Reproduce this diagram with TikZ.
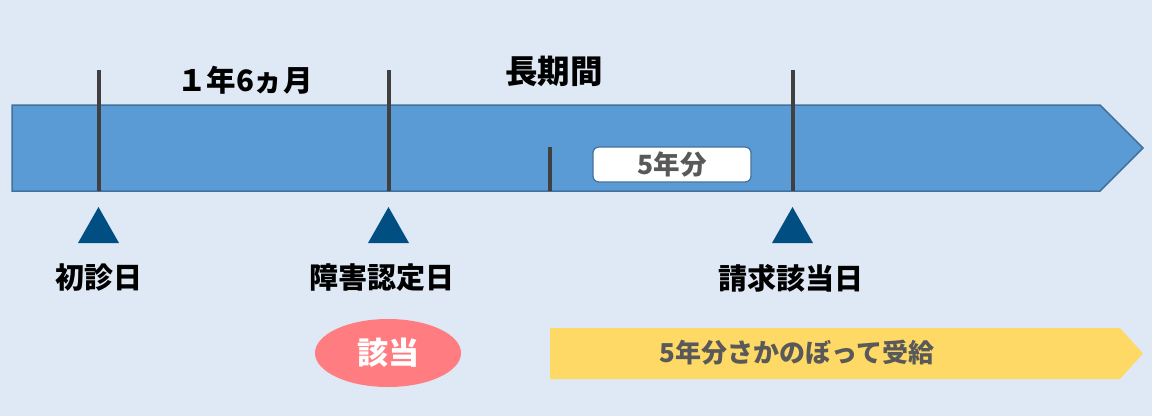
\documentclass[tikz,border=0pt]{standalone}
\usepackage{fontspec}
\usetikzlibrary{shapes.geometric}
\newfontfamily\cjk{Noto Sans CJK JP}
\definecolor{bg}{HTML}{DEE9F5}
\definecolor{band}{HTML}{5B9BD5}
\definecolor{bandline}{HTML}{41719C}
\definecolor{bar}{HTML}{404040}
\definecolor{tri}{HTML}{004E82}
\definecolor{pinkf}{HTML}{FF7C80}
\definecolor{yell}{HTML}{FFD966}
\definecolor{greytxt}{HTML}{595959}
\tikzset{
  vbar/.style={draw=bar,line width=4pt},
  marker/.style={fill=tri,draw=none},
  lbl/.style={font=\cjk\bfseries\fontsize{29}{32}\selectfont,text=black,inner sep=0pt},
}
\begin{document}
\begin{tikzpicture}[x=1pt,y=-1pt]
\useasboundingbox (0,0) rectangle (1152,416);
\fill[bg] (0,0) rectangle (1152,416);
% main band
\draw[fill=band,draw=bandline,line width=1.5pt] (12,105) -- (1100,105) -- (1143,148) -- (1100,191) -- (12,191) -- cycle;
% bars
\coordinate (b1t) at (99,70); \coordinate (b1b) at (99,191);
\coordinate (b2t) at (389,70); \coordinate (b2b) at (389,191);
\coordinate (b3t) at (550,147); \coordinate (b3b) at (550,191);
\coordinate (b4t) at (793,70); \coordinate (b4b) at (793,191);
\draw[vbar] (b1t) -- (b1b);
\draw[vbar] (b2t) -- (b2b);
\draw[vbar] (b3t) -- (b3b);
\draw[vbar] (b4t) -- (b4b);
% top labels
\node[lbl,font=\cjk\bfseries\fontsize{29.5}{32}\selectfont] (p1) at (245,80) {１年6ヵ月};
\node[lbl,font=\cjk\bfseries\fontsize{32.5}{35}\selectfont] (p2) at (554,71) {長期間};
% 5年分 box
\node[draw=bandline,fill=white,line width=1.2pt,rounded corners=6pt,minimum width=158pt,minimum height=35pt,inner sep=0pt,font=\cjk\bfseries\fontsize{26.5}{29}\selectfont,text=greytxt] (five) at (672,164.5) {5年分};
% triangles
\fill[marker] (78,243) -- (98.5,207) -- (119,243) -- cycle;
\fill[marker] (368,243) -- (388.5,207) -- (409,243) -- cycle;
\fill[marker] (772,243) -- (792.5,207) -- (813,243) -- cycle;
% bottom labels
\node[lbl] (l1) at (99,278) {初診日};
\node[lbl] (l2) at (382,278) {障害認定日};
\node[lbl] (l3) at (791,278) {請求該当日};
% ellipse
\node[ellipse,fill=pinkf,minimum width=146pt,minimum height=68pt,inner sep=0pt,text=white,font=\cjk\bfseries\fontsize{31}{34}\selectfont] (gai) at (388,353) {該当};
% yellow arrow
\fill[yell] (550,328) -- (1120,328) -- (1143,353.5) -- (1120,379) -- (550,379) -- cycle;
\node[inner sep=0pt,text=greytxt,font=\cjk\bfseries\fontsize{26}{29}\selectfont] (ret) at (797,353) {5年分さかのぼって受給};
\end{tikzpicture}
\end{document}
